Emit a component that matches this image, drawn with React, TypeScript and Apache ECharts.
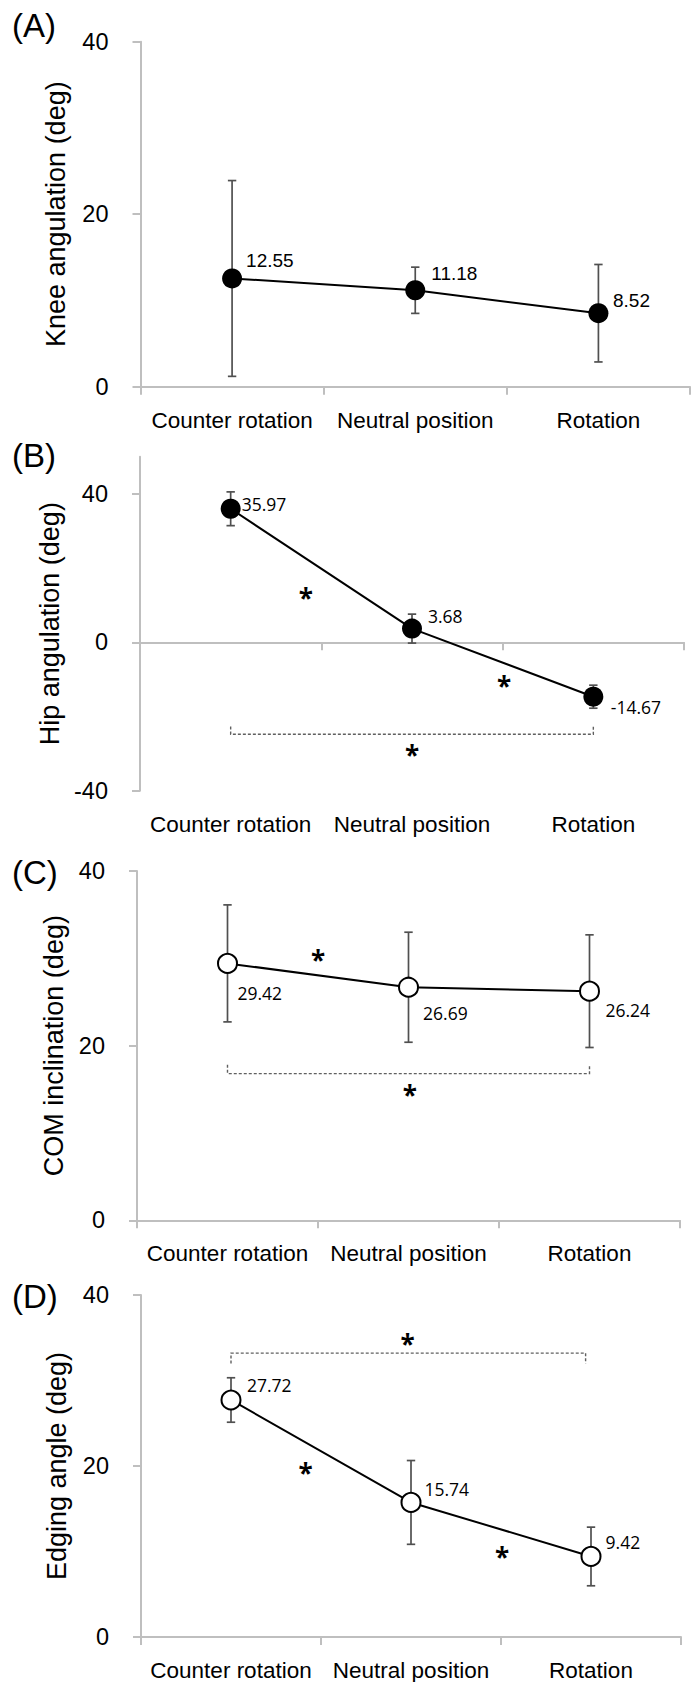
import { useEffect, useRef } from 'react';
import * as echarts from 'echarts';

// ---------- data ----------
const categories = ['Counter rotation', 'Neutral position', 'Rotation'];

const kneeMean = [12.55, 11.18, 8.52];
const kneeSD = [11.35, 2.68, 5.65];

const hipMean = [35.97, 3.68, -14.67];
const hipSD = [4.55, 3.9, 3.1];

const comMean = [29.42, 26.69, 26.24];
const comSD = [6.7, 6.3, 6.45];

const edgeMean = [27.72, 15.74, 9.42];
const edgeSD = [2.6, 4.9, 3.43];

const posTicks = [0, 20, 40];
const hipTicks = [-40, 0, 40];

// significance asterisks: [x on a 0..3 scale spanning the three categories, y value]
const hipStars = [[0.914, 13.4], [2.008, -10.4], [1.5, -29.0]];
const comStars = [[1.0, 30.4], [1.508, 14.9]];
const edgeStars = [[0.915, 19.75], [2.006, 9.9], [1.481, 34.9]];

// dashed brackets: [x start, x end, y of line, y of end ticks]
const hipBracket = [0.5, 2.5, -24.8, -22.7];
const comBracket = [0.5, 2.5, 16.8, 17.8];
const edgeBracket = [0.5, 2.47, 33.2, 32.0];

// ---------- styles ----------
const SANS = "'Liberation Sans', Arial, sans-serif";
const LABEL_SANS = "'Open Sans', 'Noto Sans', sans-serif";
const AXIS = '#bfbfbf';
const ERR = '#505050';
const STAR_DY = 5;

const panels = [
  {
    tag: '(A)', tagY: 25, title: 'Knee angulation (deg)', mean: kneeMean, sd: kneeSD,
    yMin: 0, yMax: 40, interval: 20, ticks: posTicks, filled: true,
    labelFont: SANS, labelSize: 19,
    offsets: [[14, -18], [16, -16.6], [14.6, -13]],
    stars: [] as number[][], bracket: null as number[] | null,
    grid: { left: 140.5, top: 41.7, width: 549.5, height: 345 }, nameGap: 71,
  },
  {
    tag: '(B)', tagY: 455, title: 'Hip angulation (deg)', mean: hipMean, sd: hipSD,
    yMin: -40, yMax: 50, interval: 40, ticks: hipTicks, filled: true,
    labelFont: LABEL_SANS, labelSize: 17.5,
    offsets: [[11, -5], [16, -12.7], [17.5, 10.5]],
    stars: hipStars, bracket: hipBracket,
    grid: { left: 140, top: 456.7, width: 544, height: 334 }, nameGap: 70,
  },
  {
    tag: '(C)', tagY: 872, title: 'COM inclination (deg)', mean: comMean, sd: comSD,
    yMin: 0, yMax: 40, interval: 20, ticks: posTicks, filled: false,
    labelFont: LABEL_SANS, labelSize: 17.5,
    offsets: [[10, 30], [14.6, 26], [16, 18.7]],
    stars: comStars, bracket: comBracket,
    grid: { left: 137, top: 871, width: 543, height: 349.3 }, nameGap: 69,
  },
  {
    tag: '(D)', tagY: 1296, title: 'Edging angle (deg)', mean: edgeMean, sd: edgeSD,
    yMin: 0, yMax: 40, interval: 20, ticks: posTicks, filled: false,
    labelFont: LABEL_SANS, labelSize: 17.5,
    offsets: [[16, -15], [13.5, -13.8], [14.6, -14.7]],
    stars: edgeStars, bracket: edgeBracket,
    grid: { left: 141, top: 1295, width: 540, height: 342.3 }, nameGap: 71,
  },
];

function buildOption() {
  const grid: any[] = [];
  const xAxis: any[] = [];
  const yAxis: any[] = [];
  const series: any[] = [];
  const graphic: any[] = [];
  const axisLineStyle = { color: AXIS, width: 2 };

  panels.forEach((p, k) => {
    grid.push({ ...p.grid, containLabel: false });
    const catX = xAxis.length;
    xAxis.push({
      type: 'category', gridIndex: k, data: categories, position: 'bottom',
      axisLine: { show: false, onZero: false }, axisTick: { show: false },
      axisLabel: { interval: 0, margin: 22, fontSize: 22.5, fontFamily: SANS, color: '#000' },
      splitLine: { show: false },
    });
    const valX = xAxis.length;
    xAxis.push({
      type: 'value', gridIndex: k, min: 0, max: 3, interval: 1, position: 'bottom',
      axisLine: { show: true, onZero: true, lineStyle: axisLineStyle },
      axisTick: { show: true, length: 8, lineStyle: axisLineStyle },
      axisLabel: { show: false }, splitLine: { show: false },
    });
    yAxis.push({
      type: 'value', gridIndex: k, min: p.yMin, max: p.yMax, interval: p.interval,
      name: p.title, nameLocation: 'middle', nameRotate: 90, nameGap: p.nameGap,
      nameTextStyle: { fontSize: 27, fontFamily: SANS, color: '#000' },
      axisLine: { show: true, onZero: false, lineStyle: axisLineStyle },
      axisTick: { show: true, length: 8, lineStyle: axisLineStyle, customValues: p.ticks },
      axisLabel: {
        margin: 32, fontSize: 23.5, fontFamily: SANS, color: '#000', customValues: p.ticks,
        formatter: (v: number) => (p.ticks.indexOf(v) >= 0 ? String(v) : ''),
      },
      splitLine: { show: false },
    });

    // error bars
    series.push({
      type: 'custom', xAxisIndex: catX, yAxisIndex: k, z: 2, silent: true,
      data: p.mean.map((m, i) => [i, m - p.sd[i], m + p.sd[i]]),
      encode: { x: 0, y: [1, 2] },
      renderItem: (params: any, api: any) => {
        const i = api.value(0);
        const lo = api.coord([i, api.value(1)]);
        const hi = api.coord([i, api.value(2)]);
        const w = 4.2;
        const st = { stroke: ERR, lineWidth: 1.7 };
        return {
          type: 'group',
          children: [
            { type: 'line', shape: { x1: lo[0], y1: lo[1], x2: hi[0], y2: hi[1] }, style: st },
            { type: 'line', shape: { x1: lo[0] - w, y1: lo[1], x2: lo[0] + w, y2: lo[1] }, style: st },
            { type: 'line', shape: { x1: hi[0] - w, y1: hi[1], x2: hi[0] + w, y2: hi[1] }, style: st },
          ],
        };
      },
    });

    // mean line with markers
    series.push({
      type: 'line', xAxisIndex: catX, yAxisIndex: k, z: 3, silent: true,
      data: p.mean, symbol: 'circle', symbolSize: p.filled ? 20 : 19, showSymbol: true,
      lineStyle: { color: '#000', width: 2 },
      itemStyle: { color: p.filled ? '#000' : '#fff', borderColor: '#000', borderWidth: p.filled ? 0 : 2 },
      label: { show: false },
    });

    // value labels
    series.push({
      type: 'custom', xAxisIndex: catX, yAxisIndex: k, z: 4, silent: true,
      data: p.mean.map((m, i) => [i, m]),
      renderItem: (params: any, api: any) => {
        const idx = params.dataIndex;
        const c = api.coord([api.value(0), api.value(1)]);
        const off = p.offsets[idx];
        return {
          type: 'text', x: c[0] + off[0], y: c[1] + off[1],
          style: {
            text: p.mean[idx].toFixed(2), fontSize: p.labelSize, fontFamily: p.labelFont,
            fill: '#000', align: 'left', verticalAlign: 'middle',
          },
        };
      },
    });

    if (p.stars.length) {
      series.push({
        type: 'custom', xAxisIndex: valX, yAxisIndex: k, z: 4, silent: true,
        data: p.stars,
        renderItem: (params: any, api: any) => {
          const c = api.coord([api.value(0), api.value(1)]);
          return {
            type: 'text', x: c[0], y: c[1] + STAR_DY,
            style: {
              text: '*', fontSize: 26, fontWeight: 'bold', fontFamily: LABEL_SANS,
              fill: '#000', align: 'center', verticalAlign: 'middle',
            },
          };
        },
      });
    }
    if (p.bracket) {
      series.push({
        type: 'custom', xAxisIndex: valX, yAxisIndex: k, z: 1, silent: true,
        data: [p.bracket],
        encode: { x: [0, 1], y: [2, 3] },
        renderItem: (params: any, api: any) => {
          const x0 = api.value(0), x1 = api.value(1), yl = api.value(2), yt = api.value(3);
          const a = api.coord([x0, yt]);
          const b = api.coord([x0, yl]);
          const c = api.coord([x1, yl]);
          const d = api.coord([x1, yt]);
          return {
            type: 'polyline',
            shape: { points: [a, b, c, d] },
            style: { stroke: '#606060', lineWidth: 1.4, lineDash: [3, 2], fill: null },
          };
        },
      });
    }

    graphic.push({
      type: 'text', x: 12, y: p.tagY,
      style: {
        text: p.tag, fontSize: 33, fontFamily: SANS, fill: '#000',
        align: 'left', verticalAlign: 'middle',
      },
    });
  });

  return {
    animation: false,
    backgroundColor: '#ffffff',
    grid, xAxis, yAxis, series, graphic,
  };
}

export default function App() {
  const ref = useRef<HTMLDivElement>(null);
  useEffect(() => {
    if (!ref.current) return;
    const chart = echarts.init(ref.current, undefined, { renderer: 'svg' });
    chart.setOption(buildOption() as any);
    return () => chart.dispose();
  }, []);
  return (
    <div
      ref={ref}
      style={{ position: 'absolute', left: 0, top: 0, width: 695, height: 1682, background: '#fff' }}
    />
  );
}
